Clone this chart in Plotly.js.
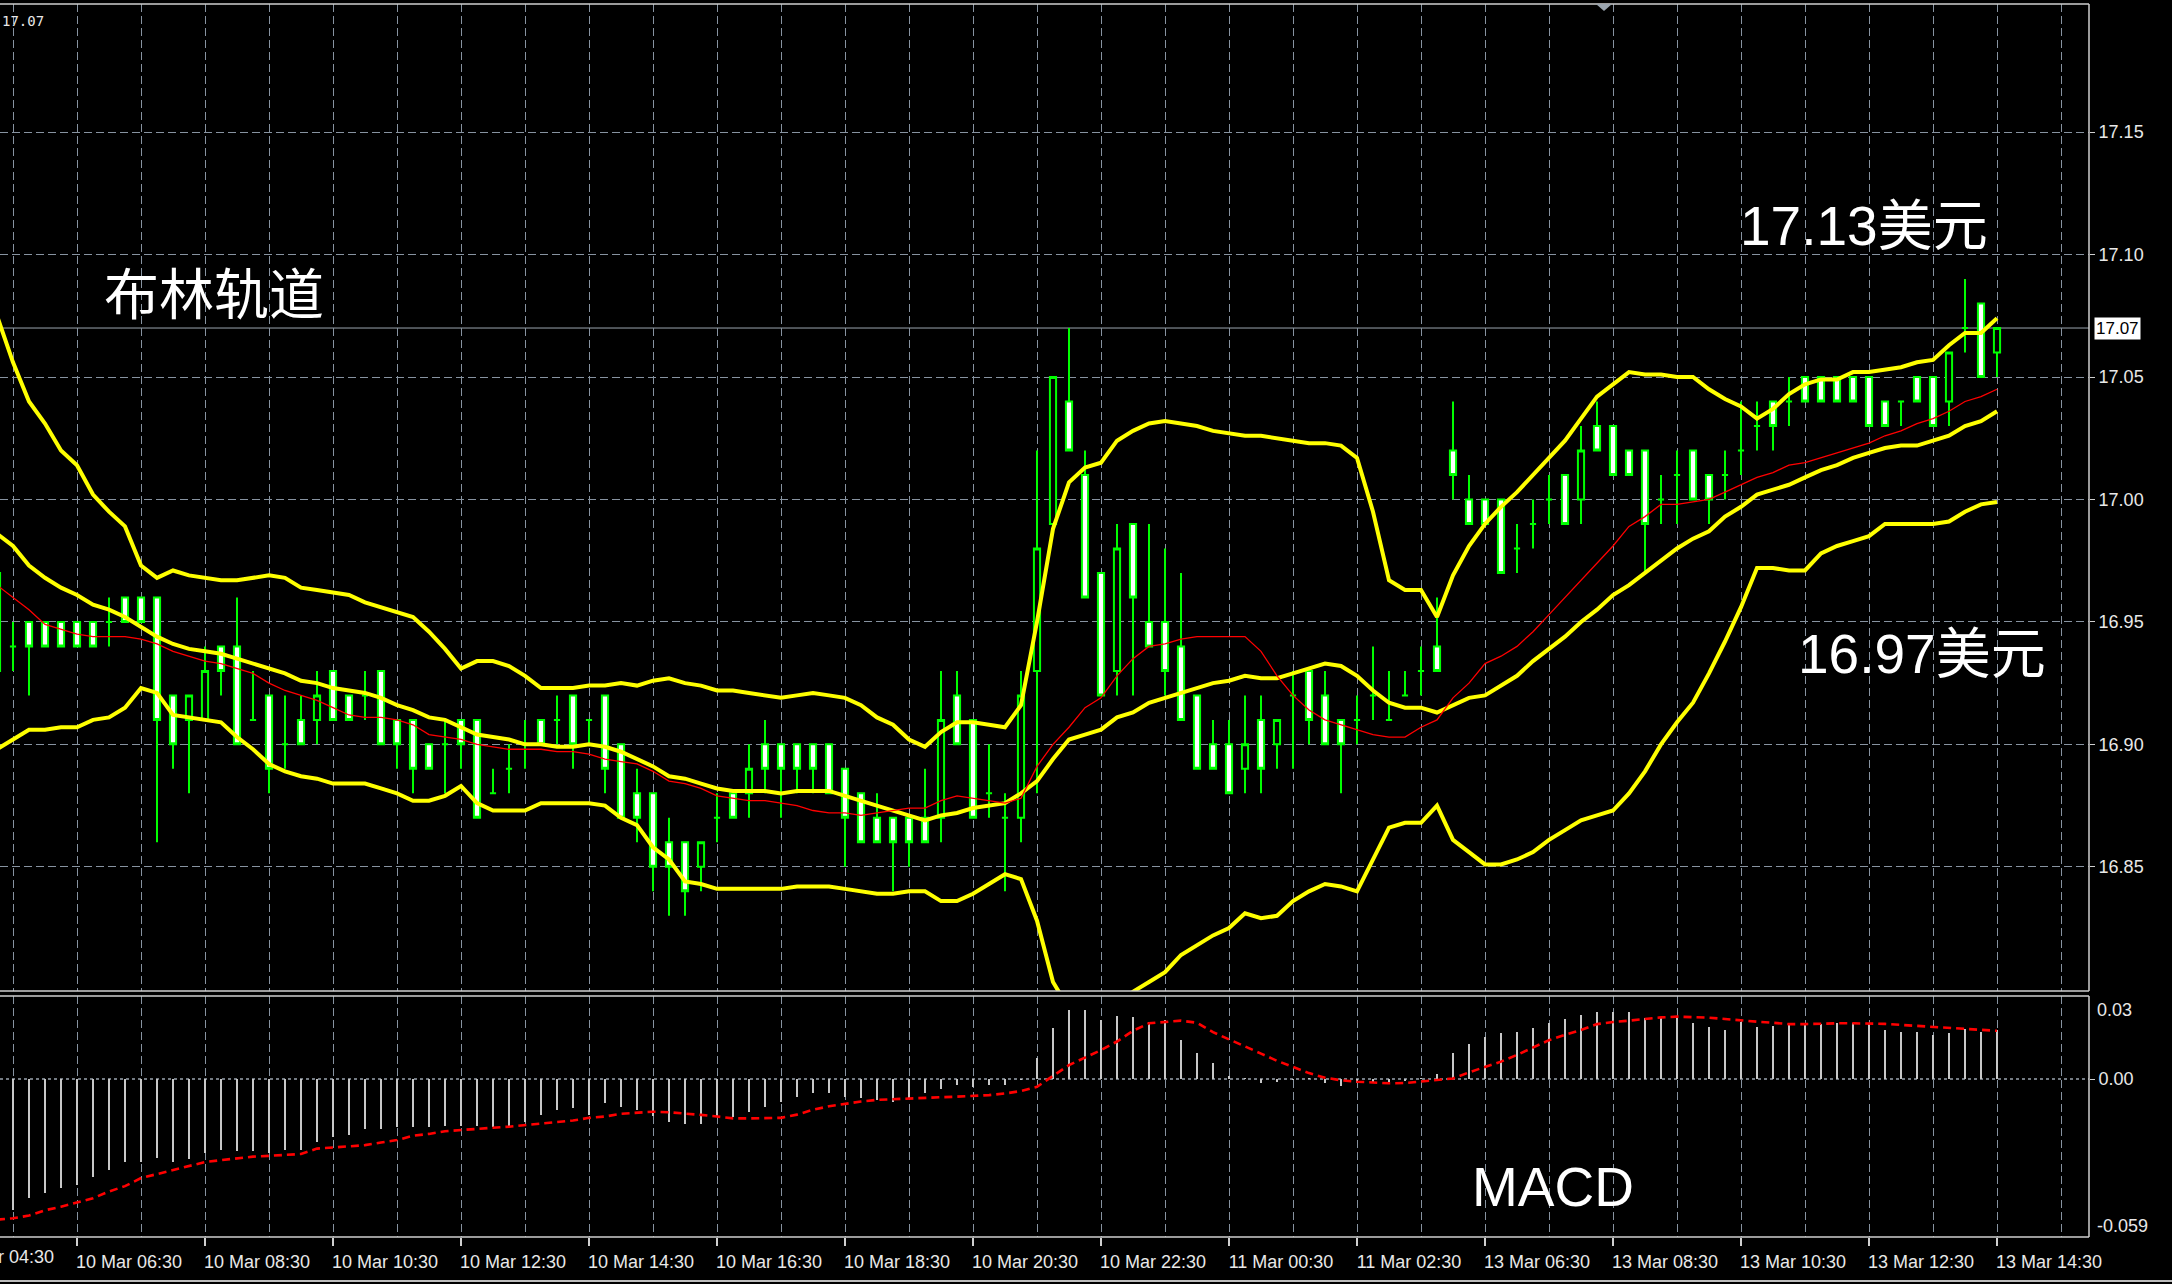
<!DOCTYPE html>
<html>
<head>
<meta charset="utf-8">
<script src="https://cdn.plot.ly/plotly-3.0.1.min.js"></script>
<style>
html,body{margin:0;padding:0;background:#000;overflow:hidden;}
#chart{width:2172px;height:1284px;}
</style>
</head>
<body>
<div id="chart"></div>
<script>
// ---------------- DATA (M15 bars, index -1 .. 124) ----------------
const firstBar = -1;
const barOpen = [16.97,16.94,16.95,16.95,16.95,16.95,16.95,16.95,16.96,16.96,16.96,16.92,16.91,16.91,16.94,16.94,16.91,16.92,16.90,16.91,16.91,16.93,
16.92,16.92,16.93,16.91,16.91,16.90,16.90,16.91,16.91,16.88,16.89,16.90,16.91,16.91,16.92,16.91,16.92,16.90,16.88,16.88,16.86,
16.86,16.85,16.87,16.88,16.88,16.90,16.90,16.90,16.90,16.90,16.89,16.88,16.87,16.87,16.87,16.87,16.87,16.92,16.91,16.88,16.87,
16.87,16.93,16.99,17.04,17.01,16.97,16.93,16.99,16.95,16.95,16.94,16.92,16.90,16.90,16.89,16.91,16.90,16.92,16.93,16.92,16.91,
16.91,16.92,16.91,16.92,16.93,16.94,17.02,17.00,17.00,17.00,16.98,16.99,17.00,17.01,17.00,17.03,17.03,17.02,17.02,17.00,17.01,
17.02,17.01,17.01,17.02,17.03,17.04,17.04,17.05,17.05,17.05,17.05,17.05,17.04,17.04,17.05,17.05,17.04,17.07,17.08,17.06];
const barHigh = [16.97,16.95,16.95,16.95,16.95,16.95,16.95,16.96,16.96,16.96,16.96,16.92,16.92,16.94,16.94,16.96,16.93,16.92,16.92,16.92,16.93,16.93,
16.92,16.93,16.93,16.91,16.91,16.90,16.91,16.91,16.91,16.89,16.90,16.91,16.91,16.92,16.92,16.91,16.92,16.90,16.89,16.88,16.87,
16.86,16.86,16.88,16.88,16.90,16.91,16.90,16.90,16.90,16.90,16.89,16.88,16.88,16.87,16.87,16.89,16.93,16.93,16.91,16.90,16.88,
16.93,17.02,17.05,17.07,17.02,16.97,16.99,16.99,16.99,16.98,16.97,16.92,16.91,16.91,16.92,16.92,16.91,16.93,16.93,16.93,16.91,
16.92,16.94,16.93,16.93,16.94,16.96,17.04,17.01,17.00,17.00,16.99,17.00,17.01,17.01,17.03,17.04,17.03,17.02,17.02,17.01,17.02,
17.02,17.01,17.02,17.04,17.04,17.04,17.05,17.05,17.05,17.05,17.05,17.05,17.04,17.04,17.05,17.05,17.06,17.09,17.08,17.07];
const barLow = [16.93,16.93,16.92,16.94,16.94,16.94,16.94,16.94,16.95,16.95,16.86,16.89,16.88,16.91,16.92,16.90,16.91,16.88,16.89,16.90,16.90,16.91,
16.91,16.91,16.90,16.89,16.88,16.89,16.88,16.89,16.87,16.88,16.88,16.89,16.90,16.90,16.89,16.90,16.88,16.87,16.86,16.84,16.83,
16.83,16.84,16.86,16.87,16.87,16.88,16.87,16.88,16.88,16.88,16.85,16.86,16.86,16.84,16.85,16.86,16.86,16.90,16.87,16.87,16.84,
16.86,16.88,16.99,17.02,16.96,16.92,16.92,16.92,16.94,16.92,16.91,16.89,16.89,16.88,16.88,16.88,16.89,16.89,16.90,16.90,16.88,
16.90,16.91,16.91,16.92,16.92,16.93,17.00,16.99,16.99,16.97,16.97,16.98,16.99,16.99,16.99,17.02,17.01,17.01,16.97,16.99,16.99,
17.00,16.99,17.00,17.01,17.02,17.02,17.03,17.04,17.04,17.04,17.04,17.03,17.03,17.03,17.04,17.03,17.03,17.06,17.05,17.05];
const barClose = [16.93,16.94,16.94,16.94,16.94,16.94,16.94,16.95,16.95,16.95,16.91,16.90,16.92,16.93,16.93,16.90,16.91,16.89,16.90,16.90,16.92,16.91,
16.91,16.92,16.90,16.90,16.89,16.89,16.90,16.90,16.87,16.88,16.89,16.90,16.90,16.91,16.90,16.91,16.89,16.87,16.87,16.85,16.85,
16.84,16.86,16.87,16.87,16.89,16.89,16.89,16.89,16.89,16.88,16.87,16.86,16.86,16.86,16.86,16.86,16.91,16.90,16.87,16.88,16.87,
16.92,16.98,17.05,17.02,16.96,16.92,16.98,16.96,16.94,16.93,16.91,16.89,16.89,16.88,16.90,16.89,16.91,16.92,16.91,16.90,16.90,
16.91,16.92,16.91,16.92,16.93,16.93,17.01,16.99,16.99,16.97,16.98,16.99,17.00,16.99,17.02,17.02,17.01,17.01,16.99,17.00,17.01,
17.00,17.00,17.01,17.02,17.03,17.03,17.04,17.04,17.04,17.04,17.04,17.03,17.03,17.04,17.04,17.03,17.06,17.07,17.05,17.07];

const bbUpper = [17.075,17.056,17.040,17.031,17.020,17.014,17.002,16.995,16.989,16.973,16.968,16.971,16.969,16.968,16.967,16.967,16.968,16.969,16.968,16.964,16.963,16.962,
16.961,16.958,16.956,16.954,16.952,16.946,16.939,16.931,16.934,16.934,16.932,16.928,16.923,16.923,16.923,16.924,16.924,16.925,16.924,16.926,16.927,
16.925,16.924,16.922,16.922,16.921,16.920,16.919,16.920,16.921,16.920,16.919,16.916,16.911,16.908,16.902,16.899,16.905,16.909,16.909,16.908,16.907,
16.916,16.950,16.988,17.007,17.013,17.015,17.024,17.028,17.031,17.032,17.031,17.030,17.028,17.027,17.026,17.026,17.025,17.024,17.023,17.023,17.022,
17.017,16.995,16.967,16.963,16.963,16.952,16.969,16.981,16.990,16.997,17.003,17.010,17.017,17.024,17.033,17.042,17.047,17.052,17.051,17.051,17.050,
17.050,17.045,17.041,17.038,17.033,17.037,17.043,17.047,17.049,17.049,17.052,17.052,17.053,17.054,17.056,17.057,17.063,17.068,17.068,17.074];
const bbMiddle = [16.986,16.981,16.973,16.968,16.964,16.961,16.957,16.955,16.952,16.948,16.944,16.941,16.939,16.938,16.937,16.935,16.933,16.931,16.929,16.926,16.925,16.923,
16.922,16.921,16.919,16.916,16.914,16.911,16.910,16.907,16.904,16.903,16.902,16.900,16.900,16.899,16.899,16.900,16.899,16.897,16.894,16.891,16.887,
16.886,16.884,16.882,16.881,16.881,16.881,16.880,16.881,16.881,16.881,16.879,16.877,16.875,16.873,16.871,16.869,16.871,16.872,16.874,16.875,16.876,
16.880,16.885,16.894,16.902,16.904,16.906,16.911,16.913,16.917,16.919,16.921,16.923,16.925,16.926,16.928,16.927,16.927,16.929,16.931,16.933,16.932,
16.928,16.922,16.917,16.915,16.915,16.913,16.916,16.919,16.920,16.924,16.928,16.934,16.939,16.944,16.950,16.955,16.961,16.965,16.970,16.975,16.980,
16.984,16.987,16.993,16.997,17.002,17.004,17.006,17.009,17.012,17.014,17.017,17.019,17.021,17.022,17.022,17.024,17.026,17.030,17.032,17.036];
const bbLower = [16.898,16.902,16.906,16.906,16.907,16.907,16.910,16.911,16.915,16.923,16.921,16.912,16.911,16.910,16.909,16.903,16.898,16.892,16.889,16.887,16.886,16.884,
16.884,16.884,16.882,16.880,16.877,16.877,16.879,16.883,16.876,16.873,16.873,16.873,16.876,16.876,16.876,16.876,16.875,16.870,16.867,16.858,16.853,
16.844,16.843,16.841,16.841,16.841,16.841,16.841,16.842,16.842,16.842,16.841,16.840,16.839,16.839,16.840,16.840,16.836,16.836,16.839,16.843,16.847,
16.845,16.828,16.803,16.792,16.786,16.785,16.790,16.799,16.803,16.807,16.814,16.818,16.822,16.825,16.831,16.829,16.830,16.836,16.840,16.843,16.842,
16.840,16.853,16.866,16.868,16.868,16.875,16.861,16.856,16.851,16.851,16.853,16.856,16.861,16.865,16.869,16.871,16.873,16.880,16.889,16.900,16.909,
16.917,16.929,16.942,16.956,16.972,16.972,16.971,16.971,16.978,16.981,16.983,16.985,16.990,16.990,16.990,16.990,16.991,16.995,16.998,16.999];
const maRed = [16.965,16.960,16.955,16.949,16.947,16.945,16.944,16.944,16.944,16.943,16.941,16.938,16.936,16.934,16.933,16.931,16.929,16.925,16.922,16.920,16.918,16.915,
16.912,16.911,16.911,16.910,16.908,16.904,16.903,16.902,16.900,16.899,16.898,16.898,16.898,16.897,16.897,16.896,16.894,16.893,16.892,16.889,16.885,
16.884,16.882,16.879,16.878,16.877,16.877,16.876,16.875,16.873,16.872,16.872,16.871,16.872,16.873,16.874,16.874,16.877,16.879,16.878,16.877,16.876,
16.878,16.891,16.900,16.907,16.915,16.919,16.928,16.935,16.940,16.941,16.943,16.944,16.944,16.944,16.944,16.938,16.928,16.920,16.914,16.910,16.908,
16.906,16.904,16.903,16.903,16.907,16.910,16.919,16.925,16.933,16.936,16.940,16.946,16.953,16.960,16.967,16.974,16.981,16.989,16.993,16.998,16.998,
16.999,17.000,17.003,17.006,17.009,17.011,17.014,17.015,17.017,17.019,17.021,17.023,17.026,17.028,17.031,17.033,17.036,17.040,17.042,17.045];

const macdHist = [-0.0510,-0.0489,-0.0446,-0.0427,-0.0408,-0.0396,-0.0365,-0.0340,-0.0309,-0.0309,-0.0296,-0.0310,-0.0300,-0.0277,-0.0265,-0.0270,-0.0270,-0.0277,-0.0265,-0.0265,-0.0234,-0.0215,
-0.0209,-0.0187,-0.0187,-0.0181,-0.0181,-0.0181,-0.0175,-0.0175,-0.0175,-0.0181,-0.0175,-0.0159,-0.0134,-0.0116,-0.0110,-0.0134,-0.0091,-0.0103,-0.0116,-0.0137,-0.0159,
-0.0168,-0.0168,-0.0137,-0.0143,-0.0122,-0.0103,-0.0085,-0.0066,-0.0054,-0.0054,-0.0066,-0.0072,-0.0078,-0.0085,-0.0072,-0.0054,-0.0037,-0.0022,-0.0028,-0.0022,-0.0022,
-0.0005,0.0077,0.0189,0.0258,0.0258,0.0220,0.0235,0.0230,0.0214,0.0220,0.0146,0.0096,0.0059,0.0010,0.0005,-0.0016,-0.0010,-0.0002,0.0002,-0.0016,-0.0026,
-0.0014,-0.0010,-0.0010,-0.0006,0.0002,0.0019,0.0096,0.0130,0.0158,0.0171,0.0177,0.0190,0.0208,0.0223,0.0239,0.0249,0.0249,0.0249,0.0227,0.0227,0.0227,
0.0208,0.0193,0.0183,0.0214,0.0196,0.0198,0.0205,0.0205,0.0205,0.0208,0.0208,0.0208,0.0183,0.0177,0.0177,0.0164,0.0171,0.0186,0.0177,0.0183];
const macdSignal = [-0.0525,-0.0520,-0.0510,-0.0490,-0.0477,-0.0460,-0.0445,-0.0420,-0.0400,-0.0370,-0.0355,-0.0340,-0.0325,-0.0310,-0.0303,-0.0296,-0.0290,-0.0287,-0.0284,-0.0280,-0.0260,-0.0255,
-0.0250,-0.0247,-0.0237,-0.0228,-0.0212,-0.0205,-0.0195,-0.0190,-0.0186,-0.0182,-0.0178,-0.0172,-0.0167,-0.0162,-0.0155,-0.0145,-0.0140,-0.0130,-0.0125,-0.0122,-0.0124,
-0.0128,-0.0134,-0.0140,-0.0147,-0.0147,-0.0147,-0.0145,-0.0133,-0.0115,-0.0102,-0.0092,-0.0084,-0.0078,-0.0075,-0.0072,-0.0071,-0.0068,-0.0066,-0.0064,-0.0060,-0.0054,
-0.0045,-0.0029,0.0012,0.0052,0.0080,0.0108,0.0140,0.0180,0.0208,0.0212,0.0218,0.0210,0.0175,0.0148,0.0120,0.0095,0.0068,0.0045,0.0022,0.0005,-0.0005,
-0.0010,-0.0014,-0.0016,-0.0015,-0.0010,-0.0004,0.0002,0.0025,0.0045,0.0065,0.0090,0.0118,0.0145,0.0165,0.0183,0.0205,0.0213,0.0218,0.0225,0.0230,0.0233,
0.0232,0.0229,0.0224,0.0218,0.0214,0.0210,0.0205,0.0205,0.0207,0.0208,0.0208,0.0208,0.0206,0.0202,0.0198,0.0194,0.0190,0.0186,0.0183,0.0180];

const tickBars = [4,12,20,28,36,44,52,60,68,76,84,92,100,108,116,124];
const tickLabels = ['10 Mar 06:30','10 Mar 08:30','10 Mar 10:30','10 Mar 12:30','10 Mar 14:30','10 Mar 16:30','10 Mar 18:30','10 Mar 20:30',
'10 Mar 22:30','11 Mar 00:30','11 Mar 02:30','13 Mar 06:30','13 Mar 08:30','13 Mar 10:30','13 Mar 12:30','13 Mar 14:30'];
const firstHiddenLabel = '10 Mar 04:30';
const priceTicks = [16.85,16.90,16.95,17.00,17.05,17.10,17.15];
const currentPrice = 17.07;
const macdTopLabel = '0.03', macdZeroLabel = '0.00', macdBottomLabel = '-0.059';
const titleText = '布林轨道', upperNote = '17.13美元', lowerNote = '16.97美元', macdText = 'MACD';

// ---------------- GEOMETRY / STYLE ----------------
const W = 2172, H = 1284;
const plotR = 2089, plotT = 4, plotB = 1237;
const mainBottomPx = 991, macdTopPx = 996;
const PH = plotB - plotT, PW = plotR;
const py = px => (plotB - px) / PH;      // pixel row -> paper y
const pxX = px => px / PW;               // pixel col -> paper x
const gridColor = '#8793a0';
const frameColor = '#cfcfcf';
const labelColor = '#e8e8e8';
const tickFont = {family: 'Liberation Sans, Arial, sans-serif', size: 18, color: labelColor};
const timeFont = {family: 'Liberation Sans, Arial, sans-serif', size: 18, color: labelColor};

const idx = barOpen.map((_, i) => i + firstBar);

const traces = [
  {type: 'candlestick', x: idx, open: barOpen, high: barHigh, low: barLow, close: barClose,
   xaxis: 'x', yaxis: 'y', whiskerwidth: 0, hoverinfo: 'skip',
   increasing: {line: {color: '#00ff00', width: 2}, fillcolor: '#000000'},
   decreasing: {line: {color: '#00ff00', width: 2}, fillcolor: '#ffffff'}},
  {type: 'scatter', mode: 'lines', x: idx, y: bbUpper, xaxis: 'x', yaxis: 'y', line: {color: '#ffff00', width: 4}, hoverinfo: 'skip'},
  {type: 'scatter', mode: 'lines', x: idx, y: bbMiddle, xaxis: 'x', yaxis: 'y', line: {color: '#ffff00', width: 4}, hoverinfo: 'skip'},
  {type: 'scatter', mode: 'lines', x: idx, y: bbLower, xaxis: 'x', yaxis: 'y', line: {color: '#ffff00', width: 4}, hoverinfo: 'skip'},
  {type: 'scatter', mode: 'lines', x: idx, y: maRed, xaxis: 'x', yaxis: 'y', line: {color: '#ff0000', width: 1.3}, hoverinfo: 'skip'},
  {type: 'bar', x: idx, y: macdHist, xaxis: 'x', yaxis: 'y2', width: 0.13, marker: {color: '#c8c8c8', line: {width: 0}}, hoverinfo: 'skip'},
  {type: 'scatter', mode: 'lines', x: idx, y: macdSignal, xaxis: 'x', yaxis: 'y2', line: {color: '#ff0000', width: 2.6, dash: '8px,5px'}, hoverinfo: 'skip'}
];

const shapes = [
  {type: 'line', xref: 'paper', yref: 'y', x0: 0, x1: 1, y0: currentPrice, y1: currentPrice, line: {color: '#9aa4ae', width: 1}, layer: 'between'},
  {type: 'line', xref: 'paper', yref: 'y2', x0: 0, x1: 1, y0: 0, y1: 0, line: {color: '#9aa4ae', width: 1.5, dash: '3px,3px'}, layer: 'between'},
  {type: 'line', xref: 'paper', yref: 'paper', x0: 0, x1: 1, y0: 1, y1: 1, line: {color: frameColor, width: 1.5}},
  {type: 'line', xref: 'paper', yref: 'paper', x0: 0, x1: 1, y0: py(mainBottomPx), y1: py(mainBottomPx), line: {color: frameColor, width: 1.5}},
  {type: 'line', xref: 'paper', yref: 'paper', x0: 0, x1: 1, y0: py(macdTopPx), y1: py(macdTopPx), line: {color: frameColor, width: 1.5}},
  {type: 'line', xref: 'paper', yref: 'paper', x0: 0, x1: 1, y0: 0, y1: 0, line: {color: frameColor, width: 1.5}},
  {type: 'line', xref: 'paper', yref: 'paper', x0: 1, x1: 1, y0: py(mainBottomPx), y1: 1, line: {color: frameColor, width: 1.5}},
  {type: 'line', xref: 'paper', yref: 'paper', x0: 1, x1: 1, y0: 0, y1: py(macdTopPx), line: {color: frameColor, width: 1.5}},
  {type: 'line', xref: 'paper', yref: 'paper', x0: 0, x1: W / PW, y0: py(1281), y1: py(1281), line: {color: '#bdbdbd', width: 2}},
  {type: 'path', xref: 'paper', yref: 'paper',
   path: `M ${pxX(1596)},${py(4)} L ${pxX(1612)},${py(4)} L ${pxX(1604)},${py(11)} Z`,
   fillcolor: '#9aa4ae', line: {width: 0}}
];

const bigFont = {family: 'Liberation Sans, Arial, Noto Sans CJK SC, sans-serif', size: 55, color: '#ffffff'};
const annotations = [
  {text: titleText, xref: 'paper', yref: 'paper', x: pxX(102), y: py(290), xanchor: 'left', yanchor: 'middle', showarrow: false,
   font: {family: 'Noto Sans CJK SC, sans-serif', size: 55, color: '#ffffff'}},
  {text: upperNote, xref: 'paper', yref: 'paper', x: pxX(1738), y: py(226), xanchor: 'left', yanchor: 'middle', showarrow: false, font: bigFont},
  {text: lowerNote, xref: 'paper', yref: 'paper', x: pxX(1796), y: py(654), xanchor: 'left', yanchor: 'middle', showarrow: false, font: bigFont},
  {text: macdText, xref: 'paper', yref: 'paper', x: pxX(1470), y: py(1187), xanchor: 'left', yanchor: 'middle', showarrow: false,
   font: {family: 'Liberation Sans, Arial, sans-serif', size: 55, color: '#ffffff'}},
  {text: currentPrice.toFixed(2), xref: 'paper', yref: 'paper', x: 0, y: py(21), xanchor: 'left', yanchor: 'middle', showarrow: false,
   font: {family: 'DejaVu Sans Mono, monospace', size: 14, color: labelColor}},
  {text: firstHiddenLabel, xref: 'paper', yref: 'paper', x: pxX(-54), y: py(1257), xanchor: 'left', yanchor: 'middle', showarrow: false,
   font: timeFont},
  {text: currentPrice.toFixed(2), xref: 'paper', yref: 'y', x: 1, y: currentPrice, xanchor: 'left', yanchor: 'middle', xshift: 5, showarrow: false,
   bgcolor: '#ffffff', borderpad: 1, font: {family: 'Liberation Sans, Arial, sans-serif', size: 17, color: '#000000'}},
  {text: macdTopLabel, xref: 'paper', yref: 'paper', x: 1, y: py(1010), xanchor: 'left', yanchor: 'middle', xshift: 6, showarrow: false, font: tickFont},
  {text: macdBottomLabel, xref: 'paper', yref: 'paper', x: 1, y: py(1226), xanchor: 'left', yanchor: 'middle', xshift: 6, showarrow: false, font: tickFont}
];

const layout = {
  width: W, height: H,
  margin: {l: 0, r: W - plotR, t: plotT, b: H - plotB, pad: 0},
  paper_bgcolor: '#000000', plot_bgcolor: '#000000',
  showlegend: false, boxgap: 0.45, bargap: 0,
  xaxis: {
    range: [-0.8125, 129.75], anchor: 'y2', rangeslider: {visible: false},
    tickmode: 'array', tickvals: tickBars, ticktext: tickLabels, tickangle: 0,
    ticks: 'outside', ticklen: 8, tickwidth: 1.5, tickcolor: frameColor, ticklabelshift: 52,
    tickfont: timeFont,
    showgrid: true, gridcolor: gridColor, gridwidth: 1, griddash: '8px,4px',
    minor: {tick0: 0, dtick: 4, showgrid: true, gridcolor: gridColor, gridwidth: 1, griddash: '8px,4px', ticks: ''},
    zeroline: false, showline: false, fixedrange: true
  },
  yaxis: {
    domain: [py(mainBottomPx), 1], range: [16.7993, 17.2023], side: 'right', anchor: 'x',
    tickmode: 'array', tickvals: priceTicks, ticktext: priceTicks.map(v => v.toFixed(2)),
    ticks: 'outside', ticklen: 5, tickcolor: frameColor, tickfont: tickFont,
    showgrid: true, gridcolor: gridColor, gridwidth: 1, griddash: '8px,4px',
    zeroline: false, showline: false, fixedrange: true
  },
  yaxis2: {
    domain: [0, py(macdTopPx)], range: [-0.059, 0.031], side: 'right', anchor: 'x',
    tickmode: 'array', tickvals: [0], ticktext: [macdZeroLabel],
    ticks: 'outside', ticklen: 5, tickcolor: frameColor, tickfont: tickFont,
    showgrid: false, zeroline: false, showline: false, fixedrange: true
  },
  shapes: shapes,
  annotations: annotations
};

Plotly.newPlot('chart', traces, layout, {displayModeBar: false, staticPlot: true});
</script>
</body>
</html>
